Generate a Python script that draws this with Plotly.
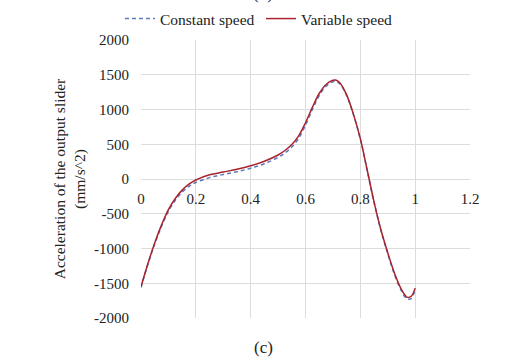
import plotly.graph_objects as go

x_vals = [0, 0.025, 0.05, 0.075, 0.1, 0.125, 0.15, 0.175, 0.2, 0.25, 0.3, 0.35, 0.4, 0.45,
          0.5, 0.525, 0.55, 0.575, 0.6, 0.625, 0.65, 0.675, 0.7, 0.71, 0.725, 0.75, 0.775,
          0.8, 0.825, 0.85, 0.875, 0.9, 0.925, 0.95, 0.97, 0.985, 1.0]
variable_speed = [-1550, -1220, -920, -660, -440, -280, -160, -75, -15, 60, 100, 140, 190, 255,
                  345, 410, 495, 620, 810, 1030, 1230, 1360, 1420, 1425, 1385, 1210, 930,
                  580, 130, -330, -730, -1060, -1360, -1590, -1700, -1690, -1570]
constant_speed = [-1560, -1230, -935, -680, -465, -305, -190, -105, -50, 20, 65, 105, 155, 220,
                  310, 375, 460, 585, 775, 1000, 1200, 1335, 1400, 1405, 1370, 1200, 925,
                  575, 125, -335, -740, -1075, -1380, -1610, -1725, -1720, -1590]

x_ticks = [0, 0.2, 0.4, 0.6, 0.8, 1, 1.2]
x_tick_text = ["0", "0.2", "0.4", "0.6", "0.8", "1", "1.2"]
y_ticks = [-2000, -1500, -1000, -500, 0, 500, 1000, 1500, 2000]
y_tick_text = ["-2000", "-1500", "-1000", "-500", "0", "500", "1000", "1500", "2000"]

FONT = "Liberation Serif, Times New Roman, serif"
PLOT_LEFT, PLOT_RIGHT = 141, 470
PLOT_TOP, PLOT_BOT = 40, 318
W, H = 526, 363
TXT = "#222222"


def py(p):
    return (PLOT_BOT - p) / (PLOT_BOT - PLOT_TOP)


def px(p):
    return (p - PLOT_LEFT) / (PLOT_RIGHT - PLOT_LEFT)


fig = go.Figure()
fig.add_trace(go.Scatter(x=x_vals, y=constant_speed, mode="lines", name="Constant speed",
                         line=dict(color="#5B7BC0", width=1.5, dash="4px,3px", shape="spline")))
fig.add_trace(go.Scatter(x=x_vals, y=variable_speed, mode="lines", name="Variable speed",
                         line=dict(color="#A8232C", width=1.5, shape="spline")))

fig.update_layout(
    width=W, height=H,
    margin=dict(l=PLOT_LEFT, r=W - PLOT_RIGHT, t=PLOT_TOP, b=H - PLOT_BOT, autoexpand=False),
    paper_bgcolor="white", plot_bgcolor="white",
    font=dict(family=FONT, size=15, color=TXT),
    showlegend=True,
    legend=dict(orientation="h", x=120 / W, y=1 - 2 / H, xref="container", yref="container",
                xanchor="left", yanchor="top",
                font=dict(family=FONT, size=15.5, color=TXT),
                itemwidth=30, entrywidth=96, bgcolor="rgba(0,0,0,0)"),
    xaxis=dict(range=[0, 1.2], tickvals=x_ticks, ticktext=x_tick_text,
               showgrid=True, gridcolor="#dcdcdc", gridwidth=1,
               zeroline=False, showline=False, anchor="free", position=0.5,
               ticks="", ticklabelstandoff=9,
               tickfont=dict(family=FONT, size=15, color=TXT)),
    yaxis=dict(range=[-2000, 2000], tickvals=y_ticks, ticktext=y_tick_text,
               showgrid=True, gridcolor="#dcdcdc", gridwidth=1,
               zeroline=False, showline=False, ticks="", ticklabelstandoff=11,
               tickfont=dict(family=FONT, size=15, color=TXT),
               title=dict(text="Acceleration of the output slider<br>(mm/s^2)",
                          font=dict(family=FONT, size=15.5, color=TXT), standoff=4)),
    annotations=[
        dict(text="(c)", x=px(263), y=py(347), xref="paper", yref="paper",
             xanchor="center", yanchor="middle", showarrow=False,
             font=dict(family=FONT, size=17, color=TXT)),
        dict(text="(b)", x=px(263), y=py(-6), xref="paper", yref="paper",
             xanchor="center", yanchor="middle", showarrow=False,
             font=dict(family=FONT, size=17, color=TXT)),
    ],
)

fig.write_html("out.html")
